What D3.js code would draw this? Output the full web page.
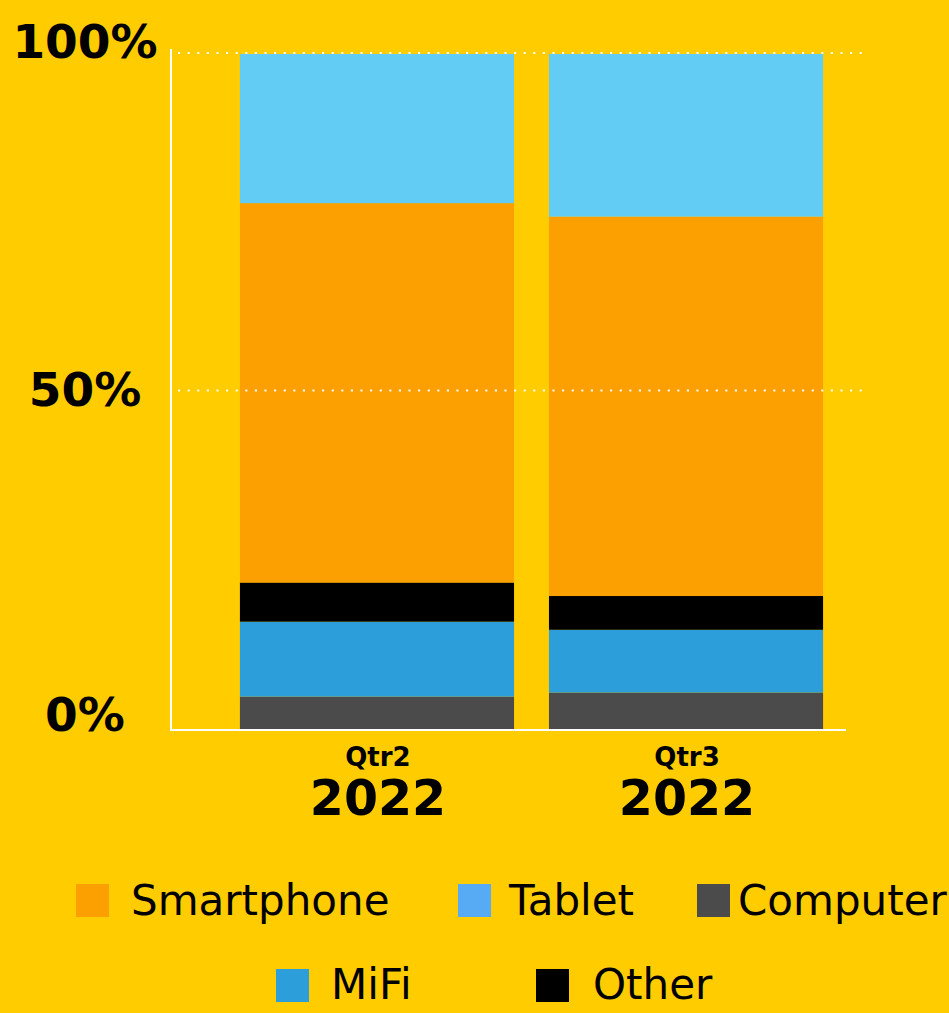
<!DOCTYPE html>
<html>
<head>
<meta charset="utf-8">
<script src="https://cdn.jsdelivr.net/npm/d3@7"></script>
<style>
  html, body { margin: 0; padding: 0; background: #FFCC00; }
  svg { display: block; }
</style>
</head>
<body>
<svg id="chart" width="949" height="1013"></svg>
<script>
// ---- data ----
const quarters = ["Qtr2", "Qtr3"];
const years = ["2022", "2022"];
const seriesNames = ["Computer", "MiFi", "Other", "Smartphone", "Tablet"]; // bottom to top
const computer   = [4.8, 5.4];
const mifi       = [11.1, 9.3];
const other      = [5.8, 5.0];
const smartphone = [56.2, 56.2];
const tablet     = [22.1, 24.1];
const yTicks = [0, 50, 100];
const yTickLabels = ["0%", "50%", "100%"];
const legendNames = ["Smartphone", "Tablet", "Computer", "MiFi", "Other"];

// ---- styles ----
const colors = {
  Computer: "#4B4B4B",
  MiFi: "#2C9FDB",
  Other: "#000000",
  Smartphone: "#FBA000",
  Tablet: "#63CCF4"
};
const legendColors = {
  Smartphone: "#FBA000",
  Tablet: "#56ABF4",
  Computer: "#4B4B4B",
  MiFi: "#2C9FDB",
  Other: "#000000"
};
const FONT = "'DejaVu Sans', sans-serif";

// ---- table ----
const valuesBySeries = { Computer: computer, MiFi: mifi, Other: other, Smartphone: smartphone, Tablet: tablet };
const table = quarters.map((q, i) => {
  const row = { key: q + i, quarter: q, year: years[i] };
  seriesNames.forEach(s => row[s] = valuesBySeries[s][i]);
  return row;
});
const stacked = d3.stack().keys(seriesNames)(table);

const svg = d3.select("#chart");

const x = d3.scaleBand()
  .domain(table.map(d => d.key))
  .range([171, 892])
  .paddingInner(0.113)
  .paddingOuter(0.223);

const y = d3.scaleLinear().domain([0, 100]).range([729, 54]);

// bars
svg.append("g")
  .selectAll("g")
  .data(stacked)
  .join("g")
  .attr("fill", d => colors[d.key])
  .selectAll("rect")
  .data(d => d)
  .join("rect")
  .attr("x", d => x(d.data.key))
  .attr("width", x.bandwidth())
  .attr("y", d => y(d[1]))
  .attr("height", d => y(d[0]) - y(d[1]));

// gridlines (dotted) at 50 and 100, drawn on top
svg.append("g")
  .selectAll("line")
  .data(yTicks.filter(t => t > 0))
  .join("line")
  .attr("x1", 178).attr("x2", 862)
  .attr("y1", d => y(d) - 1).attr("y2", d => y(d) - 1)
  .attr("stroke", "#FFFFFF")
  .attr("stroke-opacity", 0.9)
  .attr("stroke-width", 2.2)
  .attr("stroke-dasharray", "2.2,7.4");

// axes lines
svg.append("line")
  .attr("x1", 171).attr("x2", 171)
  .attr("y1", 49).attr("y2", 731)
  .attr("stroke", "#FFFFFF").attr("stroke-width", 2);
svg.append("line")
  .attr("x1", 170).attr("x2", 846)
  .attr("y1", 730).attr("y2", 730)
  .attr("stroke", "#FFFFFF").attr("stroke-width", 2);

// y tick labels
const yLabelBaseline = { 0: 731, 50: 406, 100: 58 };
svg.append("g")
  .selectAll("text")
  .data(yTicks)
  .join("text")
  .attr("x", 85)
  .attr("y", d => yLabelBaseline[d])
  .attr("text-anchor", "middle")
  .attr("font-family", FONT)
  .attr("font-weight", "bold")
  .attr("font-size", 47)
  .attr("fill", "#000")
  .text((d, i) => yTickLabels[i]);

// x labels
const xl = svg.append("g")
  .selectAll("g")
  .data(table)
  .join("g")
  .attr("transform", d => `translate(${x(d.key) + x.bandwidth() / 2 + 1},0)`);
xl.append("text")
  .attr("y", 766)
  .attr("text-anchor", "middle")
  .attr("font-family", FONT)
  .attr("font-weight", "bold")
  .attr("font-size", 26)
  .attr("fill", "#000")
  .text(d => d.quarter);
xl.append("text")
  .attr("y", 815)
  .attr("text-anchor", "middle")
  .attr("font-family", FONT)
  .attr("font-weight", "bold")
  .attr("font-size", 49)
  .attr("fill", "#000")
  .text(d => d.year);

// legend
const legendLayout = [
  { sx: 76, tx: 131, sy: 884, ty: 915 },
  { sx: 458, tx: 509, sy: 884, ty: 915 },
  { sx: 697, tx: 738, sy: 884, ty: 915 },
  { sx: 276, tx: 331, sy: 969, ty: 999 },
  { sx: 536, tx: 593, sy: 969, ty: 999 }
];
const lg = svg.append("g")
  .selectAll("g")
  .data(legendNames)
  .join("g");
lg.append("rect")
  .attr("x", (d, i) => legendLayout[i].sx)
  .attr("y", (d, i) => legendLayout[i].sy)
  .attr("width", 33).attr("height", 33)
  .attr("fill", d => legendColors[d]);
lg.append("text")
  .attr("x", (d, i) => legendLayout[i].tx)
  .attr("y", (d, i) => legendLayout[i].ty)
  .attr("font-family", FONT)
  .attr("font-size", 42)
  .attr("fill", "#000")
  .text(d => d);
</script>
</body>
</html>
